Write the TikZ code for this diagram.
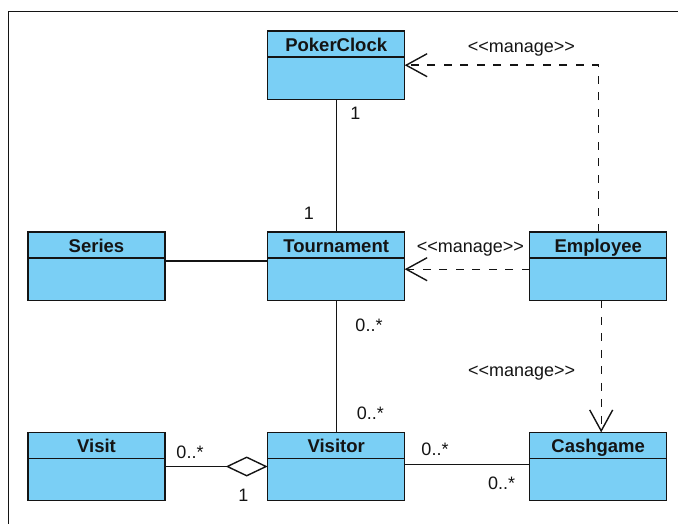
\documentclass[tikz,border=0pt]{standalone}
\usepackage{fontspec}
\setmainfont{Liberation Sans}
\usetikzlibrary{arrows.meta}
\definecolor{classfill}{RGB}{122,207,245}
\definecolor{ink}{RGB}{20,20,20}
\newcommand{\stereo}[1]{{<}{<}#1{>}{>}}

\begin{document}
\begin{tikzpicture}[x=1pt,y=-1pt,
  cls/.style={draw=ink, line width=1.5pt, fill=classfill,
    minimum width=137pt, minimum height=68.3pt, inner sep=0pt, outer sep=0pt,
    path picture={\draw[ink, line width=1.5pt]
      ([yshift=-26pt]path picture bounding box.north west) --
      ([yshift=-26pt]path picture bounding box.north east);}},
  title/.style={anchor=base, font=\fontsize{18.5}{22}\selectfont\bfseries,
    inner sep=0pt, text=ink},
  mult/.style={anchor=base, font=\fontsize{18}{22}\selectfont, inner sep=0pt, text=ink},
  assoc/.style={draw=ink, line width=1.4pt},
  dep/.style={draw=ink, line width=1.4pt, dash pattern=on 8pt off 8.5pt,
    -{Straight Barb[length=21pt,width=23pt]}},
]
\useasboundingbox (0,0) rectangle (678,524);
% diagram frame
\draw[ink, line width=1.2pt] (8.5,524) -- (8.5,11.7) -- (678,11.7);

% classes
\node[cls] (pc) at (336.2,65.2) {};
\node[title] (pc-t) at ([yshift=-20.4pt]pc.north) {PokerClock};
\node[cls] (series) at (96.5,266.2) {};
\node[title] (series-t) at ([yshift=-20.4pt]series.north) {Series};
\node[cls] (tour) at (336.2,266.2) {};
\node[title] (tour-t) at ([yshift=-20.4pt]tour.north) {Tournament};
\node[cls] (emp) at (598.2,266.2) {};
\node[title] (emp-t) at ([yshift=-20.4pt]emp.north) {Employee};
\node[cls] (visit) at (96.5,466.5) {};
\node[title] (visit-t) at ([yshift=-20.4pt]visit.north) {Visit};
\node[cls] (visitor) at (336.2,466.5) {};
\node[title] (visitor-t) at ([yshift=-20.4pt]visitor.north) {Visitor};
\node[cls] (cash) at (598.2,466.5) {};
\node[title] (cash-t) at ([yshift=-20.4pt]cash.north) {Cashgame};

% associations
\draw[assoc] (pc) -- (tour);
\draw[assoc] ([yshift=5.2pt]series.east) -- ([yshift=5.2pt]tour.west);
\draw[assoc] (tour) -- (visitor);
\draw[assoc, {Diamond[open,length=42pt,width=20pt]}-] (visitor.west) -- (visit.east);
\draw[assoc] ([yshift=1.8pt]visitor.east) -- ([yshift=1.8pt]cash.west);

% dependencies
\draw[dep] (emp.north) |- (pc.east);
\draw[dep] ([yshift=-3pt]emp.west) -- ([yshift=-3pt]tour.east);
\draw[dep] ([xshift=3pt]emp.south) -- ([xshift=3pt]cash.north);

% stereotypes
\node[mult] (st1) at (521.3,52.5) {\stereo{manage}};
\node[mult] (st2) at (470.3,252.5) {\stereo{manage}};
\node[mult] (st3) at (521.7,376.5) {\stereo{manage}};

% multiplicities
\node[mult] (m1) at (355.3,120) {1};
\node[mult] (m2) at (309,220) {1};
\node[mult] (m3) at (369,331) {0..*};
\node[mult] (m4) at (370.3,419) {0..*};
\node[mult] (m5) at (190,458) {0..*};
\node[mult] (m6) at (243.3,501.7) {1};
\node[mult] (m7) at (435,455) {0..*};
\node[mult] (m8) at (501.7,489.3) {0..*};
\end{tikzpicture}
\end{document}
